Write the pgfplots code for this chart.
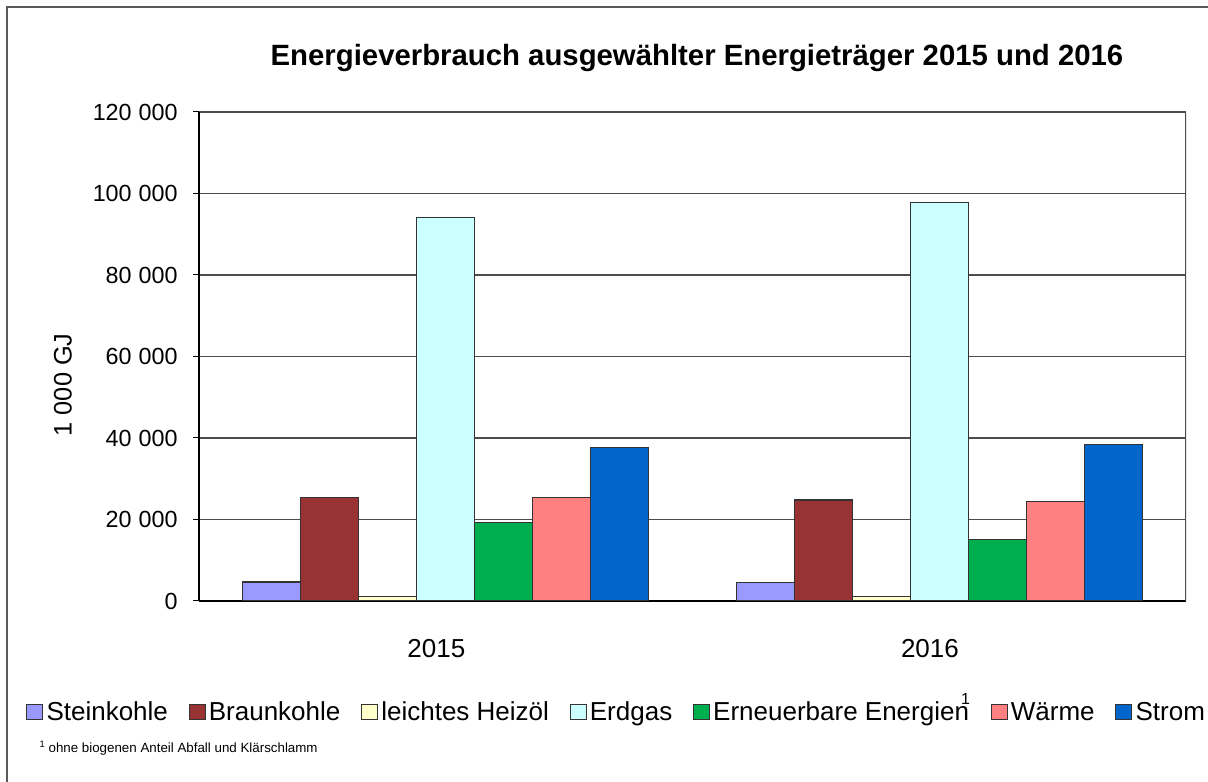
\documentclass[border=0pt]{standalone}
\usepackage{pgfplots}
\pgfplotsset{compat=1.18}
\usepackage{fontspec}
\setmainfont{Liberation Sans}
\definecolor{cStein}{HTML}{9999FF}
\definecolor{cBraun}{HTML}{993333}
\definecolor{cHeiz}{HTML}{FFFFCC}
\definecolor{cErd}{HTML}{CCFFFF}
\definecolor{cErn}{HTML}{00AE4F}
\definecolor{cWaer}{HTML}{FF8080}
\definecolor{cStrom}{HTML}{0066CC}
\begin{document}
\begin{tikzpicture}[x=0.75pt,y=0.75pt]
\useasboundingbox (0,0) rectangle (1208,782);
\draw[gray!70!black, line width=0.9pt] (7,-20) -- (7,775) -- (1230,775);
\node[font=\bfseries\fontsize{22}{26}\selectfont] at (697,724) {Energieverbrauch ausgewählter Energieträger 2015 und 2016};
\begin{axis}[
  at={(149.25pt,135.75pt)}, anchor=south west,
  scale only axis, width=740.25pt, height=366.75pt,
  ybar=0pt, bar width=0.1176,
  xmin=-0.5, xmax=1.5, ymin=0, ymax=120000,
  xtick={0,1}, xticklabels={2015,2016},
  ytick={0,20000,40000,60000,80000,100000,120000},
  yticklabels={0,20\kern0.3em000,40\kern0.3em000,60\kern0.3em000,80\kern0.3em000,100\kern0.3em000,120\kern0.3em000},
  axis x line*=bottom, axis y line*=left,
  axis line style={black, line width=0.9pt},
  x axis line style={-}, y axis line style={-},
  ymajorgrids, grid style={gray!60!black, line width=0.9pt},
  tick align=outside, major tick length=4.5pt,
  x tick style={draw=none},
  y tick style={black, line width=0.75pt},
  scaled y ticks=false,
  yticklabel style={xshift=-8pt, font=\fontsize{17.5}{20}\selectfont},
  xticklabel style={yshift=-21pt, xshift=-7pt, font=\fontsize{19.5}{22}\selectfont},
  ylabel={1 000 GJ},
  ylabel style={at={(axis description cs:-0.138,0.442)}, anchor=center, font=\fontsize{19}{22}\selectfont},
  every axis plot/.append style={draw=black!80, line width=0.9pt},
  legend columns=7,
  legend style={at={(axis description cs:-0.1753,-0.226)}, anchor=west, draw=none, fill=none,
    font=\fontsize{19.5}{22}\selectfont, inner sep=0pt,
    nodes={text height=16pt, text depth=2pt},
    /tikz/every odd column/.append style={column sep=0.5pt},
    /tikz/every even column/.append style={column sep=13.5pt}},
  legend cell align=left,
  legend image code/.code={\draw[#1, line width=0.7pt] (0pt,-5.6pt) rectangle (12pt,5.6pt);},
]
\addplot[fill=cStein] coordinates {(0,4660) (1,4500)};
\addplot[fill=cBraun] coordinates {(0,25300) (1,24800)};
\addplot[fill=cHeiz] coordinates {(0,1200) (1,1100)};
\addplot[fill=cErd] coordinates {(0,94100) (1,97800)};
\addplot[fill=cErn] coordinates {(0,19300) (1,15000)};
\addplot[fill=cWaer] coordinates {(0,25300) (1,24500)};
\addplot[fill=cStrom] coordinates {(0,37700) (1,38500)};
\draw[gray!60!black, line width=0.9pt] (rel axis cs:1,0) -- (rel axis cs:1,1);
\legend{Steinkohle, Braunkohle, leichtes Heizöl, Erdgas, {Erneuerbare Energien\kern-6pt\smash{\raisebox{12pt}{\fontsize{12}{13}\selectfont 1}}}, Wärme, Strom}
\end{axis}
\node[anchor=west, font=\fontsize{10}{12}\selectfont] at (35,34) {\raisebox{4pt}{\fontsize{7}{8}\selectfont 1} ohne biogenen Anteil Abfall und Klärschlamm};
\end{tikzpicture}
\end{document}
